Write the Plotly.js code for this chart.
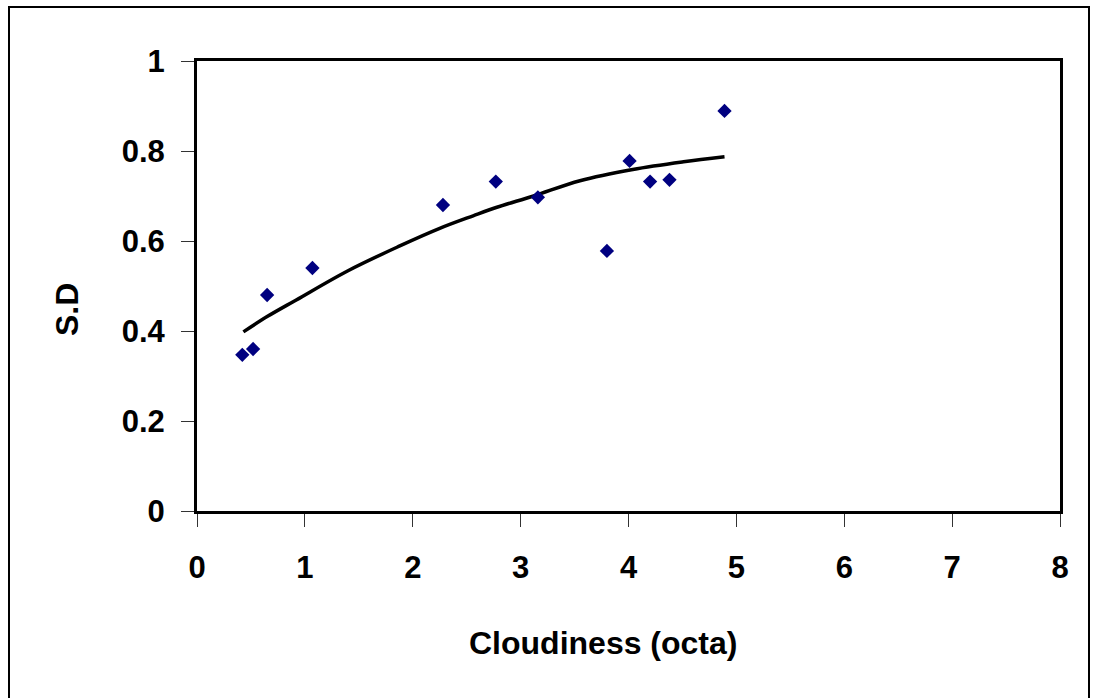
<!DOCTYPE html>
<html>
<head>
<meta charset="utf-8">
<script src="https://cdn.plot.ly/plotly-3.0.1.min.js"></script>
<style>
html,body{margin:0;padding:0;background:#fff;}
#wrap{position:relative;width:1095px;height:698px;overflow:hidden;}
#frame{position:absolute;left:8px;top:6px;width:1082px;height:720px;border:2px solid #000;box-sizing:border-box;pointer-events:none;z-index:5;}
#chart{position:absolute;left:0;top:0;width:1095px;height:698px;}
</style>
</head>
<body>
<div id="wrap">
<div id="chart"></div>
<div id="frame"></div>
</div>
<script>
// Observed data points
const cloudX = [0.42, 0.52, 0.65, 1.07, 2.28, 2.77, 3.16, 3.80, 4.01, 4.20, 4.38, 4.89];
const sdY    = [0.347, 0.360, 0.480, 0.540, 0.680, 0.732, 0.697, 0.578, 0.778, 0.732, 0.736, 0.889];

// Trend line
const trendX = [0.43, 0.65, 0.92, 1.40, 1.88, 2.25, 2.56, 2.78, 3.12, 3.55, 4.04, 4.51, 4.89];
const trendY = [0.398, 0.432, 0.469, 0.534, 0.589, 0.628, 0.656, 0.675, 0.700, 0.734, 0.759, 0.776, 0.787];

const xTicks = [0, 1, 2, 3, 4, 5, 6, 7, 8];
const yTicks = [0, 0.2, 0.4, 0.6, 0.8, 1];
const yTickText = ['0', '0.2', '0.4', '0.6', '0.8', '1'];

const xTitle = 'Cloudiness (octa)';
const yTitle = 'S.D';

const FONT = 'Liberation Sans, Arial, Helvetica, sans-serif';

const traces = [
  {
    x: trendX, y: trendY, type: 'scatter', mode: 'lines',
    line: {color: '#000000', width: 3.5, shape: 'spline'},
    hoverinfo: 'skip', showlegend: false
  },
  {
    x: cloudX, y: sdY, type: 'scatter', mode: 'markers',
    marker: {symbol: 'diamond', size: 11, color: '#000080', line: {width: 0}},
    showlegend: false
  }
];

const layout = {
  width: 1095, height: 698,
  margin: {l: 197, r: 35, t: 61, b: 187, pad: 0},
  paper_bgcolor: '#ffffff', plot_bgcolor: '#ffffff',
  font: {family: FONT, color: '#000', size: 31},
  showlegend: false,
  xaxis: {
    range: [0, 8], tickvals: xTicks, ticktext: xTicks.map(String),
    showgrid: false, zeroline: false,
    showline: true, linecolor: '#000', linewidth: 3, mirror: true,
    ticks: 'outside', ticklen: 13, tickwidth: 1, tickcolor: '#333',
    ticklabelstandoff: 14,
    tickfont: {family: FONT, size: 31, color: '#000', weight: 'bold'}
  },
  yaxis: {
    range: [0, 1], tickvals: yTicks, ticktext: yTickText,
    showgrid: false, zeroline: false,
    showline: true, linecolor: '#000', linewidth: 3, mirror: true,
    ticks: 'outside', ticklen: 13, tickwidth: 1, tickcolor: '#333',
    ticklabelstandoff: 10,
    tickfont: {family: FONT, size: 31, color: '#000', weight: 'bold'}
  },
  annotations: [
    {
      text: '<b>' + xTitle + '</b>', xref: 'paper', yref: 'paper',
      x: (603 - 197) / 863, y: (511 - 643) / 450, xanchor: 'center', yanchor: 'middle',
      showarrow: false, font: {family: FONT, size: 32, color: '#000'}
    },
    {
      text: '<b>' + yTitle + '</b>', xref: 'paper', yref: 'paper', textangle: -90,
      x: (67 - 197) / 863, y: (511 - 310) / 450, xanchor: 'center', yanchor: 'middle',
      showarrow: false, font: {family: FONT, size: 32, color: '#000'}
    }
  ]
};

Plotly.newPlot('chart', traces, layout, {displayModeBar: false, staticPlot: true});
</script>
</body>
</html>
